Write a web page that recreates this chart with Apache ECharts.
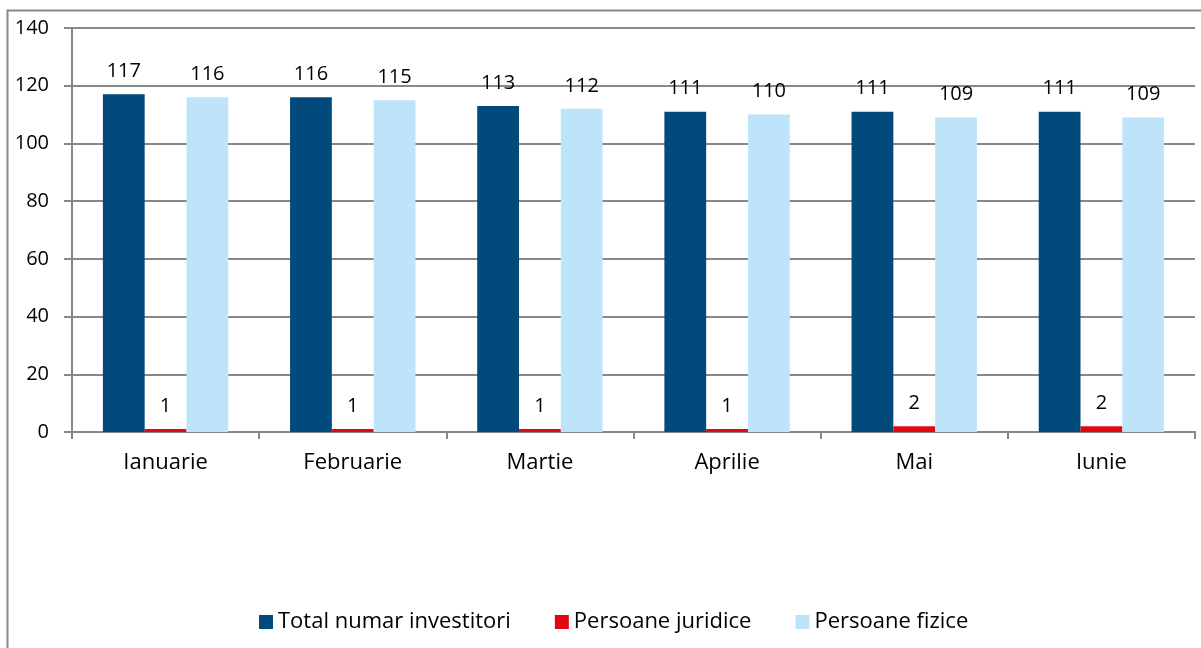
<!DOCTYPE html>
<html>
<head>
<meta charset="utf-8">
<script src="https://cdn.jsdelivr.net/npm/echarts@6/dist/echarts.min.js"></script>
<style>html,body{margin:0;padding:0;background:#fff;}#c{width:1201px;height:648px;}</style>
</head>
<body>
<div id="c"></div>
<script>
const categories = ['Ianuarie', 'Februarie', 'Martie', 'Aprilie', 'Mai', 'Iunie'];
const totalInvestitori = [117, 116, 113, 111, 111, 111];
const persoaneJuridice = [1, 1, 1, 1, 2, 2];
const persoaneFizice = [116, 115, 112, 110, 109, 109];
const seriesNames = ['Total numar investitori', 'Persoane juridice', 'Persoane fizice'];
const yTicks = { min: 0, max: 140, interval: 20 };

const FONT = 'Open Sans';
const FS = 20;   // numbers
const FT = 22;   // words
const chart = echarts.init(document.getElementById('c'), null, { renderer: 'canvas' });
const labelCfg = { show: true, position: 'top', distance: 13, color: '#000', fontFamily: FONT, fontSize: FS };
chart.setOption({
  animation: false,
  backgroundColor: '#fff',
  textStyle: { fontFamily: FONT },
  graphic: [{
    type: 'rect', shape: { x: 7.5, y: 10.5, width: 1210, height: 650 },
    style: { fill: 'none', stroke: '#898989', lineWidth: 2 }, silent: true, z: -1
  }],
  grid: { left: 72, right: 6, top: 28, bottom: 216, containLabel: false },
  legend: {
    top: 606, left: 254, itemWidth: 14, itemHeight: 14, itemGap: 44,
    icon: 'rect',
    textStyle: { fontFamily: FONT, fontSize: FT, color: '#000', padding: [0, 0, 0, 0] },
    data: seriesNames
  },
  xAxis: {
    type: 'category', data: categories,
    axisLine: { lineStyle: { color: '#888', width: 2 } },
    axisTick: { show: true, length: 7, lineStyle: { color: '#888', width: 2 } },
    axisLabel: { color: '#000', fontFamily: FONT, fontSize: FT, margin: 20 }
  },
  yAxis: {
    type: 'value', min: yTicks.min, max: yTicks.max, interval: yTicks.interval,
    axisLine: { show: true, lineStyle: { color: '#888', width: 2 } },
    axisTick: { show: true, length: 8, lineStyle: { color: '#888', width: 2 } },
    splitLine: { show: true, lineStyle: { color: '#888', width: 2 } },
    axisLabel: { color: '#000', fontFamily: FONT, fontSize: FS, margin: 23 }
  },
  series: [
    { name: seriesNames[0], type: 'bar', data: totalInvestitori, barGap: '0%', barCategoryGap: '33%',
      itemStyle: { color: '#004a7c' }, label: labelCfg },
    { name: seriesNames[1], type: 'bar', data: persoaneJuridice,
      itemStyle: { color: '#e30613' }, label: labelCfg },
    { name: seriesNames[2], type: 'bar', data: persoaneFizice,
      itemStyle: { color: '#bde4f8' }, label: labelCfg }
  ]
});
</script>
</body>
</html>
